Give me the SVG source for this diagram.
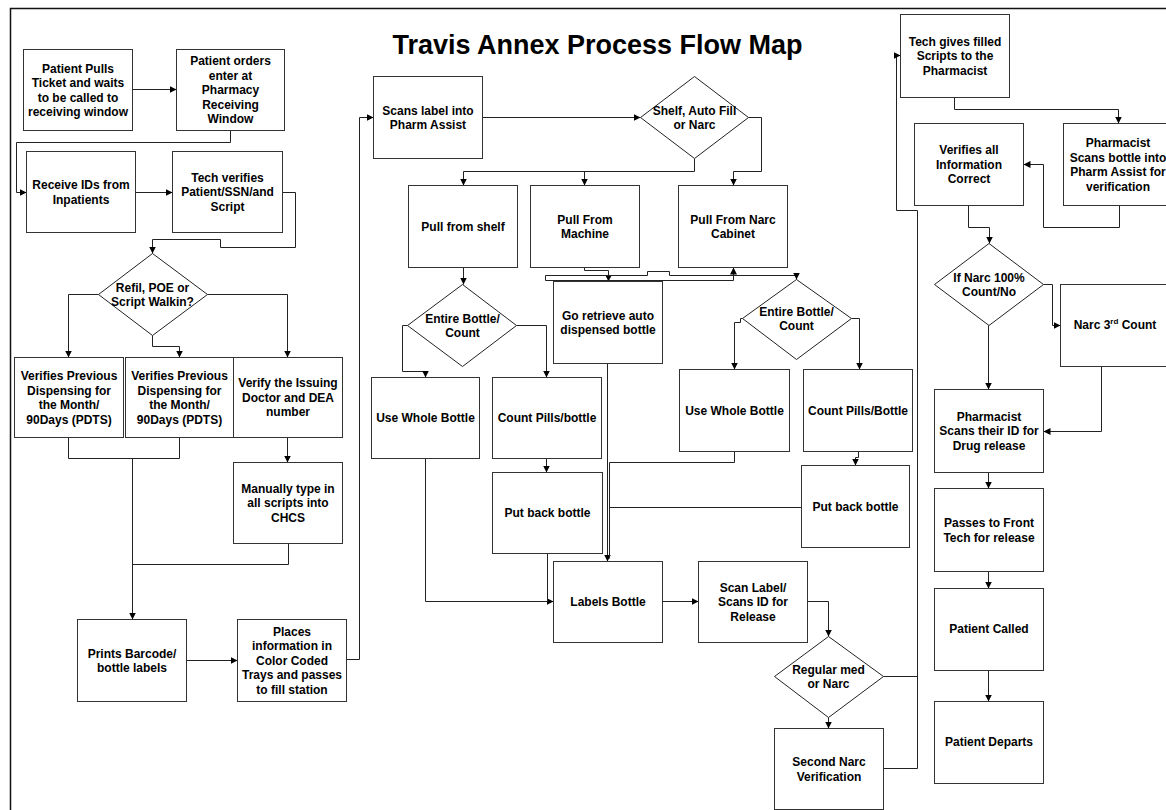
<svg xmlns="http://www.w3.org/2000/svg" width="1166" height="810" viewBox="0 0 1166 810">
<defs>
<marker id="ah" markerUnits="userSpaceOnUse" markerWidth="8" markerHeight="8" refX="7" refY="3.5" orient="auto">
<path d="M0,0 L7,3.5 L0,7 z" fill="#000"/>
</marker>
<style>
rect{fill:#fff;stroke:#333;stroke-width:1}
polygon{fill:#fff;stroke:#222;stroke-width:1}
text{font-family:"Liberation Sans",Arial,sans-serif;font-weight:bold;font-size:12px;text-anchor:middle;fill:#000}
.t{font-size:27px}
#connectors path{fill:none;stroke:#222;stroke-width:1}
#connectors path.a{marker-end:url(#ah)}
</style>
</defs>
<rect width="1166" height="810" style="fill:#fff;stroke:none"/>
<g transform="translate(0.5,0.5)">
<path d="M10,810 V8 H1166" style="fill:none;stroke:#111;stroke-width:1.5"/>
<text class="t" x="597" y="53">Travis Annex Process Flow Map</text>

<g id="connectors">
<path class="a" d="M132,89 H176"/>
<path class="a" d="M230,130 V142 H16 V192 H26"/>
<path class="a" d="M135,192 H172"/>
<path class="a" d="M282,192 H295 V247 H220 V239 H152 V253"/>
<path class="a" d="M98,294 H68 V357"/>
<path class="a" d="M152,335 V346 H179 V357"/>
<path class="a" d="M207,294 H287 V357"/>
<path d="M68,437 V458 H179 V437"/>
<path class="a" d="M132,458 V619"/>
<path class="a" d="M287,437 V462"/>
<path d="M288,543 V564 H132"/>
<path class="a" d="M186,660 H237"/>
<path class="a" d="M346,659 H359 V117 H373"/>
<path class="a" d="M482,117 H640"/>
<path class="a" d="M694,158 V171 H463 V185"/>
<path class="a" d="M584,171 V185"/>
<path class="a" d="M748,117 H761 V171 H733 V185"/>
<path class="a" d="M463,267 V284"/>
<path class="a" d="M584,267 V270 H608 V281"/>
<path class="a" d="M545,275 V280 H733 V267"/>
<path class="a" d="M545,275 H647 V271 H669 V275 H796 V279"/>
<path class="a" d="M407,325 H402 V371 H425 V377"/>
<path class="a" d="M516,325 H546 V377"/>
<path class="a" d="M546,458 V472"/>
<path class="a" d="M425,458 V601 H553"/>
<path d="M547,553 V601"/>
<path class="a" d="M607,363 V561"/>
<path d="M734,451 V462 H609 V558"/>
<path d="M801,507 H609"/>
<path class="a" d="M742,318 H740 V322 H734 V369"/>
<path class="a" d="M851,318 H859 V369"/>
<path class="a" d="M858,451 V457 H855 V465"/>
<path class="a" d="M662,601 H698"/>
<path class="a" d="M807,601 H828 V636"/>
<path class="a" d="M828,717 V728"/>
<path d="M883,676 H917"/>
<path class="a" d="M883,768 H917 V210 H896 V55 H900"/>
<path class="a" d="M954,97 V109 H1118 V123"/>
<path class="a" d="M1119,205 V227 H1043 V164 H1023"/>
<path class="a" d="M968,205 V227 H989 V243"/>
<path class="a" d="M1043,284 H1052 V325 H1060"/>
<path class="a" d="M1101,366 V431 H1043"/>
<path class="a" d="M988,325 V389"/>
<path class="a" d="M988,472 V488"/>
<path class="a" d="M988,571 V588"/>
<path class="a" d="M988,670 V701"/>
</g>

<g id="n1"><rect x="23" y="49" width="109" height="81"/><text y="72"><tspan x="77.5">Patient Pulls</tspan><tspan x="77.5" dy="14.5">Ticket and waits</tspan><tspan x="77.5" dy="14.5">to be called to</tspan><tspan x="77.5" dy="14.5">receiving window</tspan></text></g>
<g id="n2"><rect x="176" y="49" width="108" height="81"/><text y="64.8"><tspan x="230">Patient orders</tspan><tspan x="230" dy="14.5">enter at</tspan><tspan x="230" dy="14.5">Pharmacy</tspan><tspan x="230" dy="14.5">Receiving</tspan><tspan x="230" dy="14.5">Window</tspan></text></g>
<g id="n3"><rect x="26" y="151" width="109" height="81"/><text y="188.5"><tspan x="80.5">Receive IDs from</tspan><tspan x="80.5" dy="14.5">Inpatients</tspan></text></g>
<g id="n4"><rect x="172" y="151" width="110" height="81"/><text y="181.3"><tspan x="227">Tech verifies</tspan><tspan x="227" dy="14.5">Patient/SSN/and</tspan><tspan x="227" dy="14.5">Script</tspan></text></g>
<g id="d1"><polygon points="152,253 207,294 152,335 98,294"/><text y="291"><tspan x="152">Refil, POE or</tspan><tspan x="152" dy="14.5">Script Walkin?</tspan></text></g>
<g id="n5"><rect x="14" y="357" width="109" height="80"/><text y="379.5"><tspan x="68.5">Verifies Previous</tspan><tspan x="68.5" dy="14.5">Dispensing for</tspan><tspan x="68.5" dy="14.5">the Month/</tspan><tspan x="68.5" dy="14.5">90Days (PDTS)</tspan></text></g>
<g id="n6"><rect x="125" y="357" width="108" height="80"/><text y="379.5"><tspan x="179">Verifies Previous</tspan><tspan x="179" dy="14.5">Dispensing for</tspan><tspan x="179" dy="14.5">the Month/</tspan><tspan x="179" dy="14.5">90Days (PDTS)</tspan></text></g>
<g id="n7"><rect x="233" y="357" width="109" height="80"/><text y="386.8"><tspan x="287.5">Verify the Issuing</tspan><tspan x="287.5" dy="14.5">Doctor and DEA</tspan><tspan x="287.5" dy="14.5">number</tspan></text></g>
<g id="n8"><rect x="233" y="462" width="109" height="81"/><text y="492.3"><tspan x="287.5">Manually type in</tspan><tspan x="287.5" dy="14.5">all scripts into</tspan><tspan x="287.5" dy="14.5">CHCS</tspan></text></g>
<g id="n9"><rect x="77" y="619" width="109" height="82"/><text y="657"><tspan x="131.5">Prints Barcode/</tspan><tspan x="131.5" dy="14.5">bottle labels</tspan></text></g>
<g id="n10"><rect x="237" y="619" width="109" height="82"/><text y="635.3"><tspan x="291.5">Places</tspan><tspan x="291.5" dy="14.5">information in</tspan><tspan x="291.5" dy="14.5">Color Coded</tspan><tspan x="291.5" dy="14.5">Trays and passes</tspan><tspan x="291.5" dy="14.5">to fill station</tspan></text></g>
<g id="n11"><rect x="373" y="76" width="109" height="82"/><text y="114"><tspan x="427.5">Scans label into</tspan><tspan x="427.5" dy="14.5">Pharm Assist</tspan></text></g>
<g id="d2"><polygon points="694,76 748,117 694,158 640,117"/><text y="114"><tspan x="694">Shelf, Auto Fill</tspan><tspan x="694" dy="14.5">or Narc</tspan></text></g>
<g id="n12"><rect x="408" y="185" width="109" height="82"/><text x="462.5" y="230.3">Pull from shelf</text></g>
<g id="n13"><rect x="530" y="185" width="109" height="82"/><text y="223"><tspan x="584.5">Pull From</tspan><tspan x="584.5" dy="14.5">Machine</tspan></text></g>
<g id="n14"><rect x="678" y="185" width="109" height="82"/><text y="223"><tspan x="732.5">Pull From Narc</tspan><tspan x="732.5" dy="14.5">Cabinet</tspan></text></g>
<g id="d3"><polygon points="462,284 516,325 462,366 407,325"/><text y="322"><tspan x="462">Entire Bottle/</tspan><tspan x="462" dy="14.5">Count</tspan></text></g>
<g id="n15"><rect x="553" y="281" width="109" height="82"/><text y="319"><tspan x="607.5">Go retrieve auto</tspan><tspan x="607.5" dy="14.5">dispensed bottle</tspan></text></g>
<g id="d4"><polygon points="796,279 851,318 796,359 742,318"/><text y="315"><tspan x="796">Entire Bottle/</tspan><tspan x="796" dy="14.5">Count</tspan></text></g>
<g id="n16"><rect x="371" y="377" width="108" height="81"/><text x="425" y="421.8">Use Whole Bottle</text></g>
<g id="n17"><rect x="492" y="377" width="109" height="81"/><text x="546.5" y="421.8">Count Pills/bottle</text></g>
<g id="n18"><rect x="492" y="472" width="110" height="81"/><text x="547" y="516.8">Put back bottle</text></g>
<g id="n19"><rect x="679" y="369" width="110" height="82"/><text x="734" y="414.3">Use Whole Bottle</text></g>
<g id="n20"><rect x="803" y="369" width="109" height="82"/><text x="857.5" y="414.3">Count Pills/Bottle</text></g>
<g id="n21"><rect x="801" y="465" width="108" height="82"/><text x="855" y="510.3">Put back bottle</text></g>
<g id="n22"><rect x="553" y="561" width="109" height="81"/><text x="607.5" y="605.8">Labels Bottle</text></g>
<g id="n23"><rect x="698" y="561" width="109" height="81"/><text y="591.3"><tspan x="752.5">Scan Label/</tspan><tspan x="752.5" dy="14.5">Scans ID for</tspan><tspan x="752.5" dy="14.5">Release</tspan></text></g>
<g id="d5"><polygon points="828,636 883,676 828,717 774,676"/><text y="673"><tspan x="828">Regular med</tspan><tspan x="828" dy="14.5">or Narc</tspan></text></g>
<g id="n24"><rect x="774" y="728" width="109" height="81"/><text y="765.5"><tspan x="828.5">Second Narc</tspan><tspan x="828.5" dy="14.5">Verification</tspan></text></g>
<g id="n25"><rect x="900" y="14" width="109" height="83"/><text y="45.3"><tspan x="954.5">Tech gives filled</tspan><tspan x="954.5" dy="14.5">Scripts to the</tspan><tspan x="954.5" dy="14.5">Pharmacist</tspan></text></g>
<g id="n26"><rect x="914" y="123" width="109" height="82"/><text y="153.8"><tspan x="968.5">Verifies all</tspan><tspan x="968.5" dy="14.5">Information</tspan><tspan x="968.5" dy="14.5">Correct</tspan></text></g>
<g id="n27"><rect x="1063" y="123" width="109" height="82"/><text y="146.5"><tspan x="1117.5">Pharmacist</tspan><tspan x="1117.5" dy="14.5">Scans bottle into</tspan><tspan x="1117.5" dy="14.5">Pharm Assist for</tspan><tspan x="1117.5" dy="14.5">verification</tspan></text></g>
<g id="d6"><polygon points="988.5,243 1043,284 988.5,325 934,284"/><text y="281"><tspan x="988.5">If Narc 100%</tspan><tspan x="988.5" dy="14.5">Count/No</tspan></text></g>
<g id="n28"><rect x="1060" y="284" width="109" height="82"/><text x="1114.5" y="328">Narc 3<tspan font-size="8" dy="-5">rd</tspan><tspan dy="5"> Count</tspan></text></g>
<g id="n29"><rect x="934" y="389" width="109" height="83"/><text y="420.3"><tspan x="988.5">Pharmacist</tspan><tspan x="988.5" dy="14.5">Scans their ID for</tspan><tspan x="988.5" dy="14.5">Drug release</tspan></text></g>
<g id="n30"><rect x="934" y="488" width="109" height="83"/><text y="526.5"><tspan x="988.5">Passes to Front</tspan><tspan x="988.5" dy="14.5">Tech for release</tspan></text></g>
<g id="n31"><rect x="934" y="588" width="109" height="82"/><text x="988.5" y="632.5">Patient Called</text></g>
<g id="n32"><rect x="934" y="701" width="109" height="82"/><text x="988.5" y="745.5">Patient Departs</text></g>
</g>
</svg>
